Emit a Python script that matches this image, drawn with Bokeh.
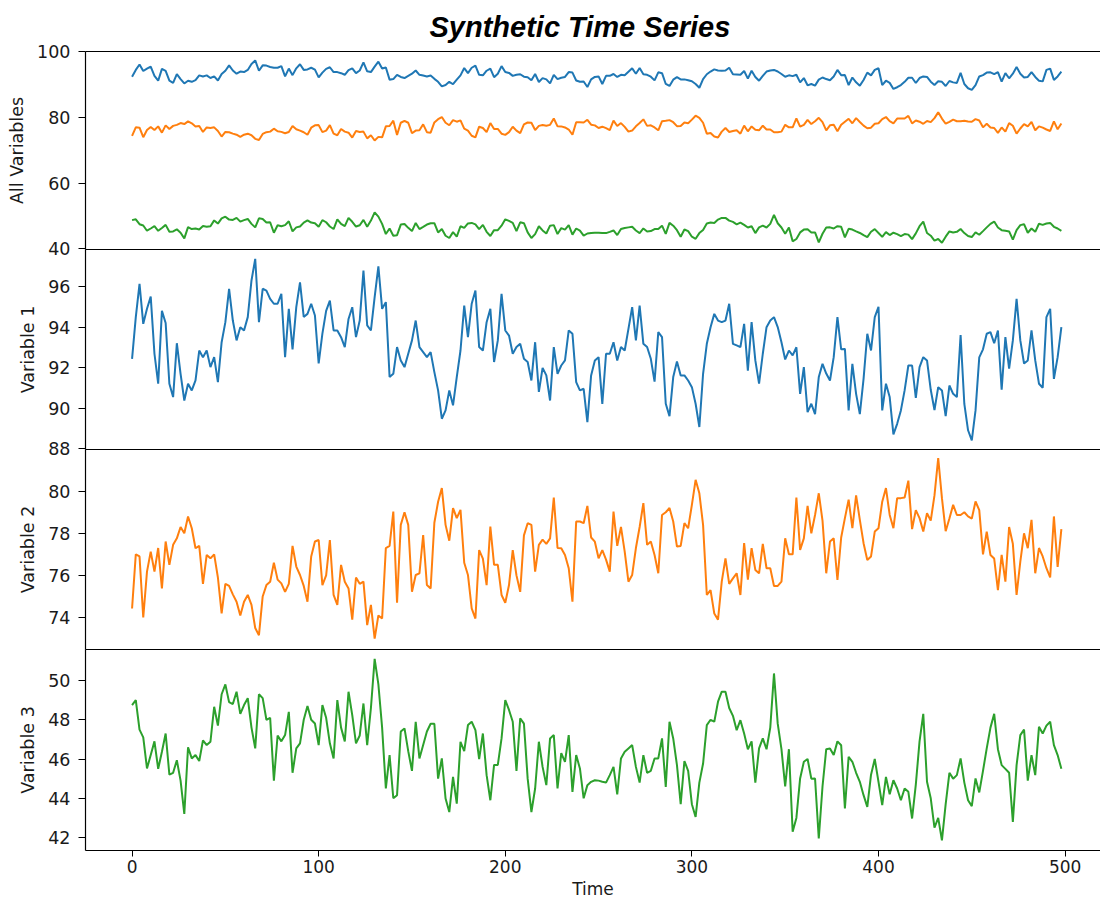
from bokeh.plotting import figure
from bokeh.layouts import column
from bokeh.models import Range1d, SingleIntervalTicker, LinearAxis, FixedTicker
from bokeh.embed import file_html
from bokeh.resources import INLINE

# Sample times (every second step of the 0..499 index)
time = list(range(0, 500, 2))

var1 = [
    92.43, 94.49, 96.13, 94.16, 94.9, 95.5, 92.68, 91.2, 94.8, 94.2,
    91.20, 90.54, 93.2, 91.69, 90.37, 91.20, 90.87, 91.36, 92.84, 92.51,
    92.84, 92.02, 92.51, 91.28, 93.25, 94.24, 95.89, 94.32, 93.34, 93.99,
    93.83, 94.49, 96.30, 97.37, 94.24, 95.89, 95.80, 95.39, 95.15, 95.15,
    95.64, 92.51, 94.9, 92.9, 94.98, 96.21, 94.5, 94.65, 95.15, 94.57,
    92.2, 93.67, 94.8, 95.3, 93.83, 93.83, 93.50, 93.01, 94.40, 94.98,
    93.50, 94.32, 96.79, 94.08, 93.83, 95.48, 97.0, 94.90, 95.23, 91.53,
    91.69, 93.01, 92.35, 92.02, 92.68, 93.34, 94.32, 93.01, 92.76, 92.51,
    92.76, 91.77, 90.87,
    89.47, 89.88, 90.87, 90.13, 91.53, 92.84, 95.06, 93.50, 95.15, 95.80,
    93.01, 92.84, 94.24, 94.90, 92.27, 93.34, 95.64, 93.83, 93.58, 92.68,
    93.01, 93.17, 92.43, 92.27, 91.36, 93.25, 90.8, 91.98, 91.61, 90.37,
    93.01, 91.69, 92.10, 92.35, 93.83, 93.67, 91.28, 90.87, 90.95, 89.30,
    91.61, 92.35, 92.51, 90.2, 92.68, 92.68, 93.25, 92.35, 93.01, 92.84,
    93.91, 94.98, 93.34, 95.06, 93.17, 93.01, 92.43, 91.3, 93.75, 93.50,
    90.21, 89.6, 91.53, 92.3, 91.61, 91.61, 91.36, 91.03, 90.21, 89.06,
    91.69, 93.17, 93.99, 94.65, 94.32, 94.24, 94.32, 95.15, 93.17, 93.09,
    93.01, 94.16, 91.85,
    94.24, 92.35, 91.20, 92.68, 93.99, 94.32, 94.49, 94.0, 93.25, 92.4,
    92.84, 92.6, 93.0, 90.7, 92.02, 89.80, 90.21, 89.7, 91.53, 92.18,
    91.7, 91.36, 92.51, 94.49, 92.9, 92.92, 89.88, 92.18, 90.70, 89.7,
    91.44, 93.67, 92.84, 94.49, 95.0, 89.88, 91.20, 90.54, 88.7, 89.22,
    89.88, 90.87, 92.10, 92.10, 90.5, 92.02, 92.51, 92.35, 90.9, 89.9,
    91.03, 90.87, 89.6, 91.11, 90.70, 90.54, 93.6, 90.2, 88.9, 88.40,
    89.88, 92.5, 92.9, 93.67, 93.75, 93.2, 93.83, 90.9, 93.50, 91.95,
    93.34, 95.39, 93.34, 92.2, 92.35, 93.83, 92.35, 91.2, 91.0, 94.49,
    94.9, 91.44, 92.51, 93.99,
]

var2 = [
    74.43, 77.0, 76.9, 74.0, 76.18, 77.13, 76.18, 77.3, 75.38, 77.61,
    76.5, 77.45, 77.76, 78.3, 78.0, 78.80, 78.24, 77.29, 77.4, 75.6,
    76.97, 76.81, 77.0, 75.9, 74.2, 75.6, 75.5, 75.1, 74.75, 74.1,
    74.75, 75.07, 74.6, 73.5, 73.16, 75.0, 75.54, 75.70, 76.6, 75.8,
    75.62, 75.22, 75.6, 77.4, 76.42, 76.02, 75.5, 74.75, 76.9, 77.61,
    77.68, 75.54, 76.0, 77.68, 75.07, 74.6, 76.5, 75.7, 75.38, 73.9,
    75.9, 75.6, 75.7, 73.64, 74.6, 73.0, 74.1, 73.95, 77.3, 77.4,
    79.03, 74.7, 78.40, 79.0, 78.40, 75.22, 76.02, 76.10, 77.92, 75.54,
    75.38, 78.5, 79.5,
    80.15, 78.40, 77.65, 79.2, 78.72, 79.11, 76.6, 76.02, 74.43, 73.95,
    77.2, 76.8, 75.54, 78.32, 76.5, 76.5, 75.07, 74.7, 75.54, 77.2,
    76.0, 75.22, 77.9, 78.48, 78.4, 76.18, 77.45, 77.7, 77.5, 77.76,
    79.70, 77.3, 77.29, 76.97, 76.34, 74.75, 78.56, 78.56, 78.48, 79.3,
    77.8, 77.6, 76.81, 77.2, 76.75, 76.18, 79.03, 77.4, 78.3, 77.13,
    75.70, 76.02, 77.3, 78.3, 79.43, 77.45, 77.61, 76.97, 76.10, 78.87,
    79.0, 79.2, 78.56, 77.37, 77.4, 78.48, 78.24, 79.35, 80.54, 79.9,
    78.40, 75.07, 75.30, 74.19, 73.9, 75.70, 76.81, 75.6, 75.86, 76.1,
    75.07, 77.53, 75.8,
    77.29, 76.26, 76.1, 77.5, 76.34, 76.34, 75.5, 75.5, 75.7, 77.76,
    77.0, 77.0, 79.7, 77.21, 77.76, 79.3, 78.0, 78.87, 79.9, 78.6,
    76.1, 77.61, 77.76, 75.78, 77.8, 78.72, 79.6, 78.24, 79.8, 78.64,
    77.53, 76.73, 76.9, 78.08, 78.24, 79.5, 80.15, 78.87, 78.24, 79.67,
    79.67, 79.7, 80.5, 78.2, 79.1, 78.72, 78.08, 78.95, 78.6, 79.8,
    81.57, 79.67, 78.1, 78.7, 79.35, 78.87, 78.87, 79.0, 78.8, 78.7,
    79.51, 79.1, 77.0, 78.08, 76.97, 76.8, 75.3, 76.97, 75.70, 78.3,
    77.5, 75.07, 76.65, 78.0, 77.29, 78.64, 76.10, 77.3, 76.9, 76.34,
    75.9, 78.8, 76.4, 78.2,
]

var3 = [
    48.75, 49.0, 47.5, 47.1, 45.52, 46.20, 46.9, 45.5, 46.37, 47.3,
    45.2, 45.3, 45.94, 44.9, 43.2, 46.6, 46.03, 46.20, 45.9, 46.95,
    46.71, 46.88, 48.66, 47.7, 49.3, 49.8, 48.9, 48.8, 49.43, 48.3,
    48.75, 49.1, 47.6, 46.54, 49.3, 49.1, 48.0, 48.1, 44.9, 47.2,
    46.9, 47.22, 48.4, 45.3, 46.54, 46.8, 48.0, 48.7, 48.0, 47.81,
    46.71, 48.75, 48.1, 46.8, 46.03, 49.00, 47.6, 46.9, 49.43, 48.24,
    46.8, 47.2, 48.83, 46.71, 48.6, 51.1, 49.8, 47.6, 44.5, 46.20,
    44.0, 44.16, 47.4, 47.56, 46.4, 45.4, 47.9, 46.03, 46.71, 47.4,
    47.8, 47.8, 45.0,
    46.03, 43.99, 43.3, 45.09, 43.73, 46.88, 46.4, 47.73, 47.90, 47.47,
    46.0, 47.3, 45.18, 43.90, 45.7, 45.7, 47.05, 49.00, 48.5, 47.9,
    45.4, 48.07, 47.8, 45.0, 43.3, 44.50, 46.88, 45.6, 44.67, 47.05,
    47.22, 44.50, 46.3, 45.86, 47.22, 44.33, 46.2, 45.52, 44.0, 44.67,
    44.84, 44.92, 44.9, 44.84, 44.8, 45.18, 45.60, 44.2, 46.03, 46.37,
    46.54, 46.71, 45.6, 44.8, 46.2, 45.3, 45.4, 46.03, 46.03, 47.05,
    44.58, 47.9, 47.05, 45.69, 43.7, 45.9, 45.4, 43.7, 43.05, 44.8,
    45.77, 47.73, 48.0, 47.9, 48.92, 49.43, 49.43, 48.6, 48.2, 47.47,
    47.98, 47.3, 46.5,
    46.9, 44.8, 46.54, 47.05, 46.5, 47.6, 50.36, 47.8, 46.5, 44.6,
    46.5, 42.3, 43.0, 45.01, 45.86, 46.0, 45.0, 45.01, 41.95, 44.6,
    46.5, 46.54, 46.2, 46.9, 46.7, 43.48, 46.11, 45.86, 45.3, 44.84,
    44.16, 43.56, 45.2, 46.0, 44.84, 43.65, 45.09, 44.2, 44.92, 44.50,
    43.90, 44.5, 44.33, 42.97, 44.7, 46.9, 48.3, 44.84, 44.0, 42.5,
    43.0, 41.86, 43.7, 45.3, 45.0, 45.18, 46.03, 44.8, 43.9, 43.6,
    45.01, 44.3, 45.4, 46.54, 47.6, 48.3, 46.5, 45.69, 45.5, 45.3,
    42.8, 45.69, 47.22, 47.5, 44.9, 46.20, 45.18, 47.64, 47.3, 47.7,
    47.9, 46.71, 46.2, 45.5,
]

series = [("Variable 1", var1, "#1f77b4"),
          ("Variable 2", var2, "#ff7f0e"),
          ("Variable 3", var3, "#2ca02c")]

TICK_FONT = "DejaVu Sans"
PAD = 10  # shared strip between stacked panels so edge tick labels stay whole
x_range = Range1d(-24.95, 518.97)


def edge_line(p, place):
    # bare axis used only as a frame edge line
    ax = LinearAxis(ticker=FixedTicker(ticks=[]), axis_line_color="black",
                    axis_line_width=1.2, major_tick_line_color=None,
                    minor_tick_line_color=None, major_tick_out=0, major_tick_in=0,
                    minor_tick_out=0, minor_tick_in=0,
                    major_label_text_font_size="0px", major_label_standoff=0)
    p.add_layout(ax, place)


def style_axis(ax, tick_size, label_size, tick_out, label_standoff, title_standoff):
    ax.axis_line_color = "black"
    ax.axis_line_width = 1.2
    ax.major_tick_out = tick_out
    ax.major_tick_in = 0
    ax.minor_tick_line_color = None
    ax.major_label_text_font = TICK_FONT
    ax.major_label_text_font_size = tick_size
    ax.major_label_text_color = "#1a1a1a"
    ax.axis_label_text_font = TICK_FONT
    ax.axis_label_text_font_size = label_size
    ax.axis_label_text_font_style = "normal"
    ax.axis_label_text_color = "#1a1a1a"
    ax.major_label_standoff = label_standoff
    ax.axis_label_standoff = title_standoff


def make_panel(height, y_start, y_end, step, label, top, bottom, show_x=False):
    p = figure(width=1100, height=height, x_range=x_range,
               y_range=Range1d(y_start, y_end),
               x_axis_location="below" if show_x else None,
               output_backend="svg", toolbar_location=None,
               min_border_left=85, min_border_right=0,
               min_border_top=top, min_border_bottom=bottom)
    p.grid.visible = False
    p.outline_line_color = None
    p.background_fill_color = "white"
    p.border_fill_color = None
    style_axis(p.yaxis[0], "17.5px", "17.5px", 7, 8, 7)
    p.yaxis.ticker = SingleIntervalTicker(interval=step)
    p.yaxis.axis_label = label
    if show_x:
        style_axis(p.xaxis[0], "17px", "17px", 6, 3, 3)
        p.xaxis.ticker = SingleIntervalTicker(interval=100)
        p.xaxis.axis_label = "Time"
    else:
        edge_line(p, "below")
    return p


p_all = make_panel(249 + PAD, 39.8, 100.1, 20, "All Variables", top=50, bottom=PAD)
edge_line(p_all, "above")
for _, vals, color in series:
    p_all.line(time, vals, line_color=color, line_width=2)

p_all.title.text = "Synthetic Time Series"
p_all.title.text_font = "Liberation Sans"
p_all.title.text_font_style = "bold italic"
p_all.title.text_font_size = "29px"
p_all.title.text_color = "black"
p_all.title.align = "left"
p_all.title.offset = 344
if "standoff" in p_all.title.properties():
    p_all.title.standoff = 17

panels = [p_all]
limits = [(87.95, 97.83, 2), (72.48, 81.98, 2), (41.34, 51.58, 2)]
frame_heights = [200, 200, 201]
for i, ((name, vals, color), (lo, hi, step), fh) in enumerate(zip(series, limits, frame_heights)):
    last = i == len(series) - 1
    bottom = 52 if last else PAD
    p = make_panel(PAD + fh + bottom, lo, hi, step, name, top=PAD, bottom=bottom, show_x=last)
    edge_line(p, "above")
    p.margin = (-2 * PAD, 0, 0, 0)
    p.line(time, vals, line_color=color, line_width=2)
    panels.append(p)

layout = column(*panels, spacing=0)
open("out.html", "w").write(file_html(layout, INLINE))
